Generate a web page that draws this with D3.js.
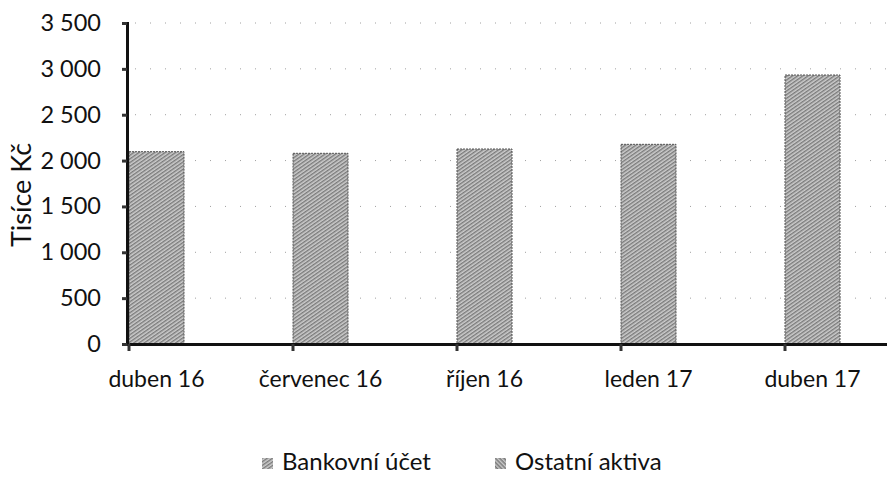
<!DOCTYPE html>
<html><head><meta charset="utf-8">
<script src="https://cdn.jsdelivr.net/npm/d3@7"></script>
<style>body{margin:0;background:#fff}svg{display:block}text{font-family:Lato,"Open Sans",sans-serif;fill:#111}</style>
</head><body><svg id="c" width="887" height="477"></svg>
<script>
const categories = ["duben 16","červenec 16","říjen 16","leden 17","duben 17"];
const bankovniUcet = [2097, 2079, 2126, 2177, 2933];
const ostatniAktiva = [0, 0, 0, 0, 0];
const seriesNames = ["Bankovní účet","Ostatní aktiva"];
const yTicks = [0,500,1000,1500,2000,2500,3000,3500];

const svg = d3.select("#c");
const defs = svg.append("defs");
function makePattern(id, base, angle){
  const p = defs.append("pattern").attr("id",id).attr("patternUnits","userSpaceOnUse")
    .attr("width",3).attr("height",3).attr("patternTransform","rotate("+angle+")");
  p.append("rect").attr("width",3).attr("height",3).attr("fill",base);
  p.append("rect").attr("width",3).attr("height",1).attr("fill","#7a7a7a");
  p.append("rect").attr("y",2).attr("width",3).attr("height",0.7).attr("fill","#dcdcdc");
  return "url(#"+id+")";
}
const fills = [makePattern("p1","#ababab",-35), makePattern("p2","#a0a0a0",45)];

const x0 = 129, bandW = 164;
const x = d3.scaleBand().domain(categories).range([x0, x0 + bandW*categories.length]).paddingInner(0).paddingOuter(0);
const y = d3.scaleLinear().domain([0,3500]).range([344,23]);
const barW = 55;

// gridlines
svg.append("g").selectAll("line").data(yTicks.filter(d=>d>0)).join("line")
  .attr("x1",135).attr("x2",887).attr("y1",d=>y(d)).attr("y2",d=>y(d))
  .attr("stroke","#a0a0a0").attr("stroke-width",1).attr("stroke-dasharray","1,14");

// stacked bars
const stack = d3.stack().keys([0,1]).value((d,k)=>k===0?bankovniUcet[d]:ostatniAktiva[d]);
const stacked = stack(d3.range(categories.length));
stacked.forEach((s,si)=>{
  svg.append("g").selectAll("rect").data(s).join("rect")
    .attr("x",(d,i)=>x(categories[i]))
    .attr("y",d=>y(d[1]))
    .attr("width",barW)
    .attr("height",d=>Math.max(0,y(d[0])-y(d[1])))
    .attr("fill",fills[si])
    .attr("stroke",d=>(d[1]-d[0])>0?"#555":"none").attr("stroke-width",1).attr("stroke-dasharray","2,1");
});

// y axis
const yAxis = d3.axisLeft(y).tickValues(yTicks).tickSize(5).tickPadding(21)
  .tickFormat(d=>d3.format(",")(d).replace(/,/g," "));
const gy = svg.append("g").attr("transform","translate(127,0)").call(yAxis);
gy.attr("font-size",null).attr("font-family",null);
gy.select(".domain").attr("stroke","#111").attr("stroke-width",3);
gy.selectAll(".tick line").attr("stroke","#333").attr("stroke-width",3);
gy.selectAll(".tick text").style("font-size","23.5px").style("font-family","Lato, sans-serif").attr("fill","#111");

// x axis
const xAxis = d3.axisBottom(x).tickSize(0).tickFormat("");
const gx = svg.append("g").attr("transform","translate(0,344)").call(xAxis);
gx.select(".domain").attr("stroke","#111").attr("stroke-width",3);
svg.append("g").selectAll("line").data(categories).join("line")
  .attr("x1",d=>x(d)).attr("x2",d=>x(d)).attr("y1",344).attr("y2",351)
  .attr("stroke","#333").attr("stroke-width",3);
svg.append("g").selectAll("text").data(categories).join("text")
  .attr("x",d=>x(d)+barW/2).attr("y",387).attr("text-anchor","middle")
  .style("font-size","23px").text(d=>d);

// y title
svg.append("text").attr("transform","translate(31,195) rotate(-90)")
  .attr("text-anchor","middle").style("font-size","27px").text("Tisíce Kč");

// legend
const legX = [262, 495];
seriesNames.forEach((n,i)=>{
  svg.append("rect").attr("x",legX[i]).attr("y",458).attr("width",11).attr("height",11).attr("fill",fills[i]);
  svg.append("text").attr("x",legX[i]+20).attr("y",470).style("font-size","24px").text(n);
});
</script></body></html>
